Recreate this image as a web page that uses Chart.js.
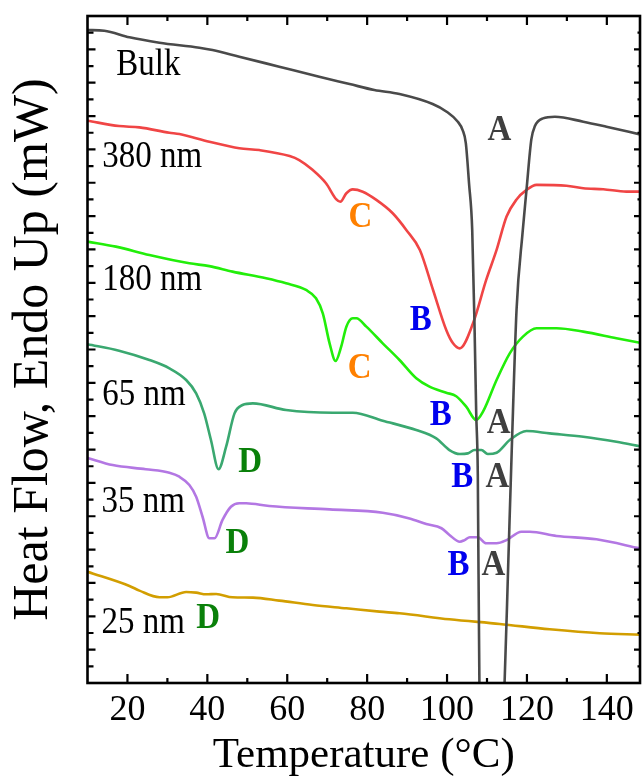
<!DOCTYPE html>
<html><head><meta charset="utf-8">
<script src="https://cdn.jsdelivr.net/npm/chart.js@4.4.1/dist/chart.umd.min.js"></script>
<style>html,body{margin:0;padding:0;background:#fff;}#wrap{width:643px;height:782px;}</style>
</head><body><div id="wrap"><canvas id="c" width="643" height="782"></canvas></div>
<script>
// ---- Data (temperature in °C, heat flow in arbitrary offset units) ----
const bulkT  = [10, 14.2, 20.5, 28, 38, 41.3, 48, 58, 68, 75.6, 81.8, 88.1, 96.4, 99.9, 102.7, 103.9, 104.7, 105.5, 106.3, 106.9, 107.3, 107.7, 108.1, 111.0, 114.4, 115.3, 116.2, 117.4, 118.9, 119.9, 121.1, 122.0, 124.0, 127.0, 134.1, 139.9, 148.3];
const bulkHF = [39.16, 39.12, 38.72, 38.4, 38.1, 37.96, 37.56, 36.96, 36.36, 35.92, 35.56, 35.32, 34.72, 34.26, 33.66, 33.16, 32.38, 29.98, 27.17, 21.17, 16.19, 12.5, 0, -12, 0, 7, 14, 22.4, 27, 29.6, 32.6, 33.4, 33.86, 33.96, 33.66, 33.36, 32.9];

const nm380T  = [10, 17.9, 23, 30.5, 33, 40.5, 48, 53, 60.6, 63, 66.4, 69.7, 72.3, 73.3, 74.8, 76.4, 78.9, 82.3, 86.4, 89.8, 93.2, 96.5, 99.8, 101.5, 103.2, 106.5, 109.8, 112.4, 114.9, 117.4, 119.9, 122.4, 129.9, 134.1, 139.1, 144.9, 148.3];
const nm380HF = [33.72, 33.40, 33.32, 33.0, 32.92, 32.46, 32.07, 31.96, 31.6, 31.36, 30.76, 29.97, 29.0, 28.86, 29.37, 29.6, 29.46, 28.97, 28.17, 27.17, 25.97, 23.57, 21.17, 20.37, 20.07, 21.57, 24.17, 25.97, 27.97, 29.0, 29.57, 29.87, 29.82, 29.67, 29.61, 29.47, 29.47];

const nm180T  = [10, 17.1, 25.5, 35.5, 40.5, 46.3, 54.7, 59.7, 64.7, 67.2, 68.9, 70.6, 72.1, 73.5, 74.8, 76.4, 77.3, 79.8, 83.9, 88.1, 92.3, 95.6, 99.8, 102.3, 104.8, 107.3, 109, 112.4, 115.7, 119.0, 122.4, 127.4, 134.1, 142.4, 148.3];
const nm180HF = [26.47, 26.17, 25.67, 25.17, 25.0, 24.67, 24.27, 23.97, 23.57, 23.07, 22.17, 20.37, 19.31, 20.17, 21.37, 21.87, 21.87, 21.37, 20.37, 19.37, 18.27, 17.77, 17.41, 17.2, 16.57, 15.77, 16.27, 18.17, 19.77, 20.77, 21.27, 21.27, 21.07, 20.67, 20.4];

const nm65T  = [10, 17.9, 25.5, 30.5, 34.7, 37.2, 39.2, 40.9, 42.8, 44.7, 46.8, 48.8, 51.4, 59.7, 71.4, 76.4, 83.9, 92.3, 97.3, 100.6, 103.2, 105.2, 106.9, 108.6, 110.2, 112.4, 115.7, 119.9, 125.7, 134.1, 142.4, 148.3];
const nm65HF = [20.31, 19.93, 19.37, 18.87, 18.17, 17.37, 16.17, 14.57, 12.82, 14.17, 16.17, 16.67, 16.77, 16.37, 16.21, 16.21, 15.73, 15.17, 14.67, 13.97, 13.73, 13.77, 13.97, 13.97, 13.73, 13.81, 14.57, 15.11, 14.97, 14.77, 14.47, 14.2];

const nm35T  = [10, 16.3, 24.6, 30.5, 33, 35.5, 37.2, 38.8, 40.5, 41.8, 43.8, 45.9, 48, 49.7, 55.5, 70.6, 83.9, 90.6, 94.8, 98.6, 100.6, 103.2, 104.4, 105.7, 107.7, 109.8, 112.4, 114.9, 118.6, 120.7, 127.4, 137.4, 148.3];
const nm35HF = [13.5, 13.07, 12.82, 12.61, 12.37, 11.87, 11.17, 9.97, 8.68, 8.68, 9.78, 10.57, 10.78, 10.78, 10.61, 10.41, 10.21, 9.87, 9.53, 9.28, 8.88, 8.47, 8.57, 8.74, 8.74, 8.38, 8.38, 8.57, 9.07, 9.07, 8.82, 8.62, 8.07];

const nm25T  = [10, 20.5, 23, 28, 30, 34.7, 37.2, 39.7, 42.2, 46.3, 51.4, 58, 66.4, 74.8, 83.1, 88.1, 100.6, 113.2, 125.7, 138.2, 148.3];
const nm25HF = [6.67, 5.82, 5.54, 5.14, 5.14, 5.46, 5.42, 5.32, 5.34, 5.14, 5.12, 4.94, 4.68, 4.48, 4.28, 4.18, 3.82, 3.54, 3.22, 2.98, 2.9];

const seriesNames = ['Bulk', '380 nm', '180 nm', '65 nm', '35 nm', '25 nm'];
const xTickValues = [20, 40, 60, 80, 100, 120, 140];
const xMinorTickValues = [30, 50, 70, 90, 110, 130];

// Curve name labels: [text, T, HF]
const nameLabels = [
  ['Bulk', 17.2, 36.46], ['380 nm', 13.7, 30.94], ['180 nm', 13.7, 23.57],
  ['65 nm', 13.7, 16.67], ['35 nm', 13.5, 10.25], ['25 nm', 13.5, 3.0]
];
// Transition letters: [letter, T, HF]
const peakLabels = [
  ['A', 113.1, 32.56], ['C', 78.3, 27.35], ['B', 93.4, 21.17],
  ['C', 78.1, 18.29], ['B', 98.4, 15.47], ['A', 112.9, 14.99],
  ['D', 50.7, 12.65], ['B', 103.8, 11.75], ['A', 112.6, 11.75],
  ['D', 47.5, 7.8], ['B', 102.9, 6.48], ['A', 111.6, 6.48],
  ['D', 40.2, 3.3]
];
const letterColors = {A: '#3f3f3f', B: '#0000ee', C: '#ff8000', D: '#0a800a'};

// ---- styling ----
const lineColors = ['#4a4a4a', '#f04545', '#22ee0a', '#3aa870', '#b377e3', '#d29e00'];
const pairs = [[bulkT, bulkHF], [nm380T, nm380HF], [nm180T, nm180HF], [nm65T, nm65HF], [nm35T, nm35HF], [nm25T, nm25HF]];

const datasets = pairs.map((p, i) => ({
  label: seriesNames[i],
  data: p[0].map((t, k) => ({x: t, y: p[1][k]})),
  borderColor: lineColors[i],
  borderWidth: 2.6,
  pointRadius: 0,
  fill: false,
  cubicInterpolationMode: 'monotone'
}));

const SERIF = "'Liberation Serif', 'Times New Roman', serif";

const framePlugin = {
  id: 'frame',
  afterDraw(chart) {
    const {ctx, chartArea: a, scales: {x, y}} = chart;
    ctx.save();
    ctx.strokeStyle = '#000';
    ctx.lineCap = 'butt';
    // inward ticks
    ctx.lineWidth = 2.2;
    ctx.beginPath();
    xTickValues.forEach(v => { const px = x.getPixelForValue(v);
      ctx.moveTo(px, a.bottom); ctx.lineTo(px, a.bottom - 9);
      ctx.moveTo(px, a.top); ctx.lineTo(px, a.top + 9); });
    xMinorTickValues.forEach(v => { const px = x.getPixelForValue(v);
      ctx.moveTo(px, a.bottom); ctx.lineTo(px, a.bottom - 5);
      ctx.moveTo(px, a.top); ctx.lineTo(px, a.top + 5); });
    for (let v = y.min + 1; v < y.max; v++) {
      const py = y.getPixelForValue(v);
      const major = v % 2 === 0;
      ctx.moveTo(a.left, py); ctx.lineTo(a.left + (major ? 8 : 6), py);
      ctx.moveTo(a.right, py); ctx.lineTo(a.right - (major ? 6 : 2.5), py);
    }
    ctx.stroke();
    // frame
    ctx.lineWidth = 2.6;
    ctx.strokeRect(a.left, a.top, a.right - a.left, a.bottom - a.top);

    // curve name labels
    ctx.fillStyle = '#000';
    ctx.textAlign = 'left';
    ctx.textBaseline = 'alphabetic';
    ctx.font = '33px ' + SERIF;
    nameLabels.forEach(([t, tx, ty]) => {
      const px = x.getPixelForValue(tx), py = y.getPixelForValue(ty);
      ctx.save(); ctx.translate(px, py); ctx.scale(1, 1.12); ctx.fillText(t, 0, 0); ctx.restore();
    });
    ctx.textAlign = 'center';
    ctx.font = 'bold 33px ' + SERIF;
    peakLabels.forEach(([t, tx, ty]) => {
      const px = x.getPixelForValue(tx), py = y.getPixelForValue(ty);
      ctx.fillStyle = letterColors[t];
      ctx.save(); ctx.translate(px, py); ctx.scale(1, 1.1); ctx.fillText(t, 0, 0); ctx.restore();
    });
    ctx.restore();
  }
};

new Chart(document.getElementById('c'), {
  type: 'line',
  data: {datasets},
  options: {
    responsive: false,
    animation: false,
    layout: {padding: {top: 16, right: 3, left: 0, bottom: 0}},
    plugins: {legend: {display: false}, tooltip: {enabled: false}},
    scales: {
      x: {
        type: 'linear', min: 10, max: 148.3,
        grid: {display: false, drawTicks: false},
        border: {display: false},
        ticks: {font: {family: SERIF, size: 36}, color: '#000', padding: 6, maxRotation: 0},
        afterBuildTicks: s => { s.ticks = xTickValues.map(v => ({value: v})); },
        afterFit: s => { s.height = 99; },
        title: {display: true, text: 'Temperature (°C)', color: '#000', font: {family: SERIF, size: 43}, padding: {top: 0, bottom: 0}}
      },
      y: {
        type: 'linear', min: 0, max: 40,
        grid: {display: false, drawTicks: false},
        border: {display: false},
        ticks: {display: false},
        afterFit: s => { s.width = 87.5; },
        title: {display: true, text: 'Heat Flow, Endo Up (mW)', color: '#000', font: {family: SERIF, size: 50}, padding: {top: 4, bottom: 0}}
      }
    }
  },
  plugins: [framePlugin]
});
</script>
</body></html>
